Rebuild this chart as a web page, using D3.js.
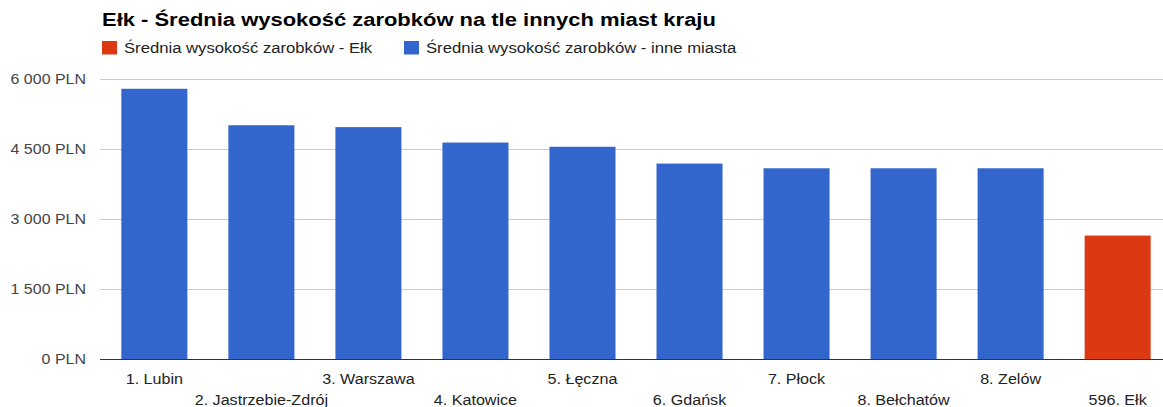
<!DOCTYPE html>
<html>
<head>
<meta charset="utf-8">
<script src="https://cdn.jsdelivr.net/npm/d3@7/dist/d3.min.js"></script>
<style>
  body { margin: 0; background: #fff; }
  svg { display: block; font-family: Arial, "Liberation Sans", sans-serif; }
</style>
</head>
<body>
<svg id="chart" width="1163" height="407"></svg>
<script>
// --- data
const cities = ["1. Lubin", "2. Jastrzebie-Zdrój", "3. Warszawa", "4. Katowice", "5. Łęczna",
                "6. Gdańsk", "7. Płock", "8. Bełchatów", "8. Zelów", "596. Ełk"];
const salaries = [5780, 5000, 4960, 4630, 4540, 4180, 4080, 4080, 4080, 2640];
const isElk = [false, false, false, false, false, false, false, false, false, true];
const yTicks = [0, 1500, 3000, 4500, 6000];
const seriesNames = ["Średnia wysokość zarobków - Ełk", "Średnia wysokość zarobków - inne miasta"];
const seriesColors = ["#dc3912", "#3366cc"];
const title = "Ełk - Średnia wysokość zarobków na tle innych miast kraju";

const svg = d3.select("#chart");
const W = 1163;
const plotLeft = 101, plotRight = 1171; // chart is cut at the right edge in the original

const x = d3.scaleBand().domain(cities).range([plotLeft, plotRight]).paddingInner(0.383).paddingOuter(0.19);
const y = d3.scaleLinear().domain([0, 6000]).range([359, 78.5]);

const fmt = v => d3.format(",")(v).replace(/,/g, " ") + " PLN";

// the original screenshot is a bit wider than tall, so text is stretched horizontally
function stretch(sel, k) {
  sel.each(function () {
    const len = this.getComputedTextLength();
    d3.select(this).attr("textLength", len * k).attr("lengthAdjust", "spacingAndGlyphs");
  });
}

// title
svg.append("text")
  .attr("x", 102).attr("y", 26)
  .attr("font-size", 18).attr("font-weight", "bold").attr("fill", "#000")
  .text(title)
  .call(stretch, 1.22);

// legend
const legend = svg.append("g");
const legX = [102, 404];
seriesNames.forEach((name, i) => {
  legend.append("rect").attr("x", legX[i]).attr("y", 41).attr("width", 15).attr("height", 13.5)
    .attr("fill", seriesColors[i]);
  legend.append("text").attr("x", legX[i] + 22).attr("y", 53)
    .attr("font-size", 14).attr("fill", "#222").text(name)
    .call(stretch, 1.19);
});

// gridlines
svg.append("g").selectAll("line").data(yTicks.filter(d => d > 0)).join("line")
  .attr("x1", 100).attr("x2", W)
  .attr("y1", d => Math.round(y(d)) + 0.5).attr("y2", d => Math.round(y(d)) + 0.5)
  .attr("stroke", "#ccc").attr("stroke-width", 1);

// y labels
svg.append("g").selectAll("text").data(yTicks).join("text")
  .attr("x", 86).attr("y", d => y(d) + 5)
  .attr("text-anchor", "end").attr("font-size", 14).attr("fill", "#444")
  .text(fmt)
  .call(stretch, 1.14);

// bars
svg.append("g").selectAll("rect").data(cities).join("rect")
  .attr("x", d => x(d))
  .attr("width", x.bandwidth())
  .attr("y", (d, i) => y(salaries[i]))
  .attr("height", (d, i) => y(0) - y(salaries[i]))
  .attr("fill", (d, i) => isElk[i] ? seriesColors[0] : seriesColors[1]);

// baseline
svg.append("line").attr("x1", 100).attr("x2", W)
  .attr("y1", Math.round(y(0)) + 0.5).attr("y2", Math.round(y(0)) + 0.5)
  .attr("stroke", "#333").attr("stroke-width", 1);

// x labels, staggered in two rows
svg.append("g").selectAll("text").data(cities).join("text")
  .attr("x", d => x(d) + x.bandwidth() / 2)
  .attr("y", (d, i) => i % 2 === 0 ? 384 : 405)
  .attr("text-anchor", "middle").attr("font-size", 14).attr("fill", "#222")
  .text(d => d)
  .call(stretch, 1.15);
</script>
</body>
</html>
